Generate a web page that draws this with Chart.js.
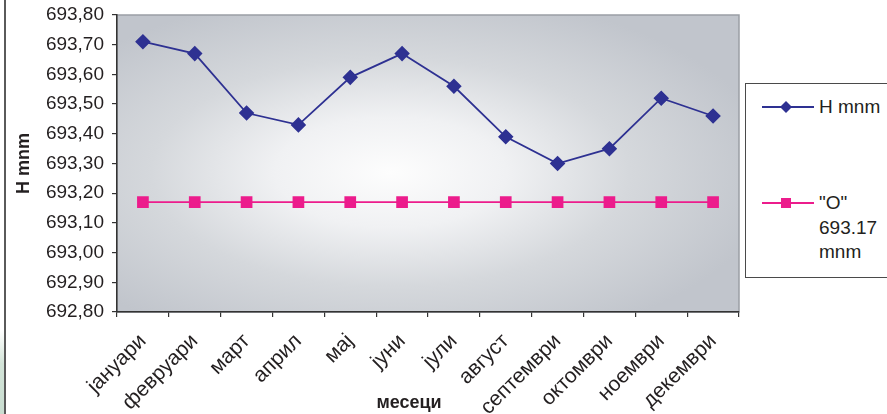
<!DOCTYPE html>
<html>
<head>
<meta charset="utf-8">
<script src="https://cdn.jsdelivr.net/npm/chart.js@4/dist/chart.umd.min.js"></script>
<style>
  html, body { margin: 0; padding: 0; background: #ffffff; }
  #wrap { position: relative; width: 887px; height: 414px; overflow: hidden; font-family: 'Liberation Sans', Arial, sans-serif; color: #231f20; }
  #chart { position: absolute; left: 0; top: 0; }
  #edge { position: absolute; left: 4px; top: 0; width: 2px; height: 414px; background: #5a5a5a; }
  #tint { position: absolute; left: 0; top: 330px; width: 4px; height: 84px; background: linear-gradient(#ffffff, #d3e4d8 40%, #c9ddd0); }
  #legend { position: absolute; left: 745px; top: 83px; width: 170px; height: 193px; border: 1.5px solid #4a4a4a; background: #ffffff; }
  .item { position: absolute; left: 16px; display: flex; align-items: flex-start; font-size: 19px; line-height: 24.5px; }
  .item svg { margin-top: 4px; margin-right: 5px; }
</style>
</head>
<body>
<div id="wrap">
  <div id="edge"></div>
  <div id="tint"></div>
  <canvas id="chart" width="887" height="414"></canvas>
  <div id="legend">
    <div class="item" style="top: 11px;">
      <svg width="52" height="16" viewBox="0 0 52 16"><line x1="0" y1="8" x2="52" y2="8" stroke="#2e3192" stroke-width="1.8"/><polygon points="24,2 30,8 24,14 18,8" fill="#2e3192"/></svg>
      <span>H mnm</span>
    </div>
    <div class="item" style="top: 107px;">
      <svg width="52" height="16" viewBox="0 0 52 16"><line x1="0" y1="8" x2="52" y2="8" stroke="#ec1c8c" stroke-width="1.8"/><rect x="19" y="3" width="10" height="10" fill="#ec1c8c"/></svg>
      <span>"O"<br>693.17<br>mnm</span>
    </div>
  </div>
</div>
<script>
// Monthly mean water level (m a.s.l.) and the fixed "O" reference level
const months = ['јануари', 'февруари', 'март', 'април', 'мај', 'јуни', 'јули', 'август', 'септември', 'октомври', 'ноември', 'декември'];
const levelH = [693.71, 693.67, 693.47, 693.43, 693.59, 693.67, 693.56, 693.39, 693.30, 693.35, 693.52, 693.46];
const levelO = [693.17, 693.17, 693.17, 693.17, 693.17, 693.17, 693.17, 693.17, 693.17, 693.17, 693.17, 693.17];
const yTickLabels = ['692,80', '692,90', '693,00', '693,10', '693,20', '693,30', '693,40', '693,50', '693,60', '693,70', '693,80'];

const FONT = "'Liberation Sans', Arial, sans-serif";
const INK = '#231f20';

// Soft light-centred fill behind the plot, with a thin grey frame
const plotBackground = {
  id: 'plotBackground',
  beforeDraw(chart) {
    const { ctx, chartArea: a } = chart;
    const cx = a.left + (a.right - a.left) * 0.44;
    const cy = a.top + (a.bottom - a.top) * 0.53;
    const rx = (a.right - a.left) * 0.62;
    const ry = (a.bottom - a.top) * 0.62;
    ctx.save();
    ctx.beginPath();
    ctx.rect(a.left, a.top, a.right - a.left, a.bottom - a.top);
    ctx.clip();
    ctx.translate(cx, cy);
    ctx.scale(rx / ry, 1);
    const g = ctx.createRadialGradient(0, 0, 0, 0, 0, ry);
    g.addColorStop(0, '#fdfdfd');
    g.addColorStop(0.3, '#f0f1f3');
    g.addColorStop(0.62, '#d5d8dc');
    g.addColorStop(1, '#c1c5cc');
    ctx.fillStyle = g;
    ctx.fillRect(-rx * 2, -ry * 2, rx * 4, ry * 4);
    ctx.restore();
    ctx.save();
    ctx.strokeStyle = '#9a9ea5';
    ctx.lineWidth = 1.5;
    ctx.strokeRect(a.left, a.top, a.right - a.left, a.bottom - a.top);
    ctx.restore();
  }
};

// Category axis caption, set a little left of the plot centre
const xCaption = {
  id: 'xCaption',
  afterDraw(chart) {
    const { ctx } = chart;
    ctx.save();
    ctx.font = 'bold 18px ' + FONT;
    ctx.fillStyle = INK;
    ctx.textAlign = 'center';
    ctx.textBaseline = 'middle';
    ctx.fillText('месеци', 409, 403);
    ctx.restore();
  }
};

new Chart(document.getElementById('chart'), {
  type: 'line',
  data: {
    labels: months,
    datasets: [
      {
        label: 'H mnm',
        data: levelH,
        borderColor: '#2e3192',
        backgroundColor: '#2e3192',
        borderWidth: 1.8,
        pointStyle: 'rectRot',
        pointRadius: 6.5,
        pointHoverRadius: 6.5,
        tension: 0
      },
      {
        label: '"O" 693.17 mnm',
        data: levelO,
        borderColor: '#ec1c8c',
        backgroundColor: '#ec1c8c',
        borderWidth: 1.8,
        pointStyle: 'rect',
        pointRadius: 7,
        pointHoverRadius: 7,
        tension: 0
      }
    ]
  },
  options: {
    responsive: false,
    animation: false,
    events: [],
    layout: { padding: { left: 8, right: 148, top: 15, bottom: 0 } },
    plugins: {
      legend: { display: false },
      tooltip: { enabled: false }
    },
    scales: {
      x: {
        offset: true,
        grid: { offset: true, drawOnChartArea: false, drawTicks: true, tickLength: 5, color: '#333333', lineWidth: 1.2 },
        border: { display: true, color: '#333333', width: 1.5 },
        ticks: {
          minRotation: 45,
          maxRotation: 45,
          autoSkip: false,
          padding: 12,
          color: INK,
          font: { family: FONT, size: 21 }
        },
        afterFit(scale) {
          scale.height = 414 - 312;
          scale.paddingLeft = 0;
          scale.paddingRight = 0;
        }
      },
      y: {
        min: 692.8,
        max: 693.8,
        grid: { drawOnChartArea: false, drawTicks: true, tickLength: 5, color: '#333333', lineWidth: 1.2 },
        border: { display: true, color: '#333333', width: 1.5 },
        ticks: {
          stepSize: 0.1,
          padding: 8,
          color: INK,
          font: { family: FONT, size: 19 },
          callback(value, index) { return yTickLabels[index]; }
        },
        title: {
          display: true,
          text: 'H mnm',
          color: INK,
          font: { family: FONT, size: 18, weight: 'bold' },
          padding: { top: 5, bottom: 0 }
        },
        afterFit(scale) {
          scale.width = 117 - 8;
          scale.paddingTop = 0;
          scale.paddingBottom = 0;
        }
      }
    }
  },
  plugins: [plotBackground, xCaption]
});
</script>
</body>
</html>
